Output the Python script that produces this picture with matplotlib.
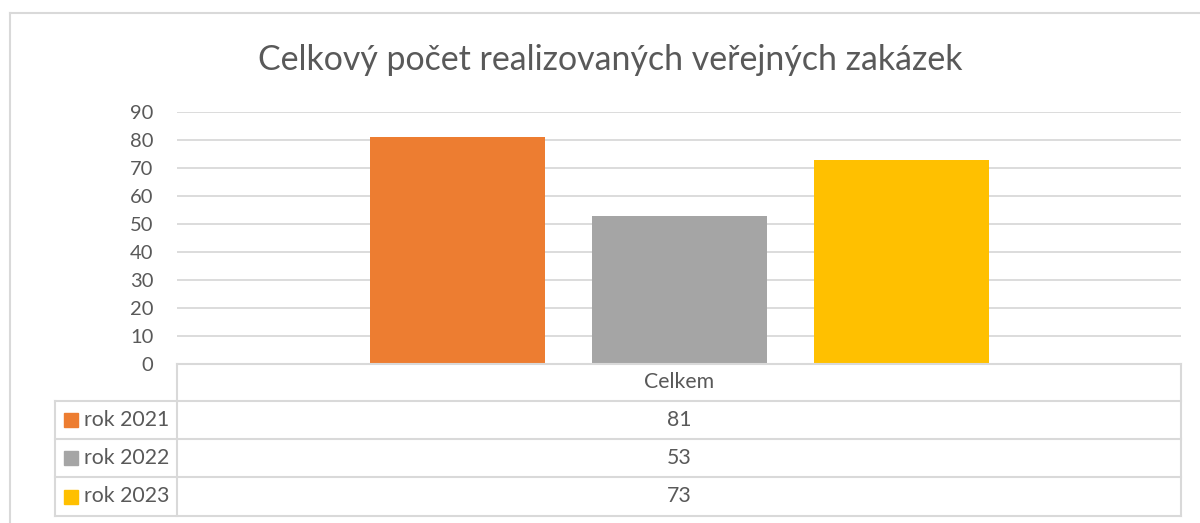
import numpy as np
import matplotlib
matplotlib.use("Agg")
from matplotlib import pyplot as plt
from matplotlib.patches import Rectangle

# * Data
TITLE = "Celkový počet realizovaných veřejných zakázek"
CATEGORY = "Celkem"
SERIES = ["rok 2021", "rok 2022", "rok 2023"]
VALUES = [81, 53, 73]
COLORS = ["#ED7D31", "#A5A5A5", "#FFC000"]
YTICKS = [0, 10, 20, 30, 40, 50, 60, 70, 80, 90]

# * Style
W, H = 1200, 523
FONT = ["Lato", "DejaVu Sans"]
TXT = "#595959"
GRID = "#D9D9D9"
TABLE_FS = 15.3
plt.rcParams["font.family"] = FONT

fig = plt.figure(figsize=(W / 100, H / 100), dpi=100)

# plot area in pixels
PX_L, PX_R, PX_TOP, PX_BOT = 177, 1181, 112, 364

def fx(px):
    return px / W

def fy(py):
    return 1 - py / H

ax = fig.add_axes([fx(PX_L), fy(PX_BOT), fx(PX_R) - fx(PX_L), fy(PX_TOP) - fy(PX_BOT)])
ax.set_xlim(-0.5, 0.5)
ax.set_ylim(0, 90)

bar_w = 175 / (PX_R - PX_L)
step = 222 / (PX_R - PX_L)
offsets = (np.arange(len(VALUES)) - (len(VALUES) - 1) / 2) * step
for off, v, c in zip(offsets, VALUES, COLORS):
    ax.bar(off, v, width=bar_w, color=c, zorder=3)

ax.set_yticks(YTICKS)
ax.set_yticklabels([str(t) for t in YTICKS], fontsize=14.5, color=TXT)
ax.yaxis.grid(True, color=GRID, lw=1.3, zorder=0)
ax.set_xticks([])
ax.tick_params(axis="y", length=0, pad=17)
for s in ax.spines.values():
    s.set_visible(False)

# overlay in pixel coords for table and border
ov = fig.add_axes([0, 0, 1, 1])
ov.set_xlim(0, W)
ov.set_ylim(H, 0)
ov.axis("off")
ov.patch.set_alpha(0)

# chart border
ov.plot([10, 10], [H + 5, 13], color=GRID, lw=1.5)
ov.plot([10, W + 5], [13, 13], color=GRID, lw=1.5)

ov.text(610, 60, TITLE, ha="center", va="center", fontsize=24.4, color=TXT)

# data table
T_L, T_C, T_R = 55, 177, 1181
rows_y = [364, 401, 439, 477, 516]
lc = dict(color=GRID, lw=1.5)
ov.plot([T_C, T_C], [rows_y[0], rows_y[-1]], **lc)
ov.plot([T_R, T_R], [rows_y[0], rows_y[-1]], **lc)
ov.plot([T_L, T_L], [rows_y[1], rows_y[-1]], **lc)
ov.plot([T_C, T_R], [rows_y[0], rows_y[0]], **lc)
for y in rows_y[1:]:
    ov.plot([T_L, T_R], [y, y], **lc)

mid = (T_C + T_R) / 2
ov.text(mid, (rows_y[0] + rows_y[1]) / 2, CATEGORY, ha="center", va="center", fontsize=TABLE_FS, color=TXT)
for i, (name, v, c) in enumerate(zip(SERIES, VALUES, COLORS)):
    yc = (rows_y[i + 1] + rows_y[i + 2]) / 2
    ov.add_patch(Rectangle((64, yc - 7), 14, 14, color=c))
    ov.text(84, yc, name, ha="left", va="center", fontsize=TABLE_FS, color=TXT)
    ov.text(mid, yc, str(v), ha="center", va="center", fontsize=TABLE_FS, color=TXT)

fig.savefig("out.png", dpi=100)
